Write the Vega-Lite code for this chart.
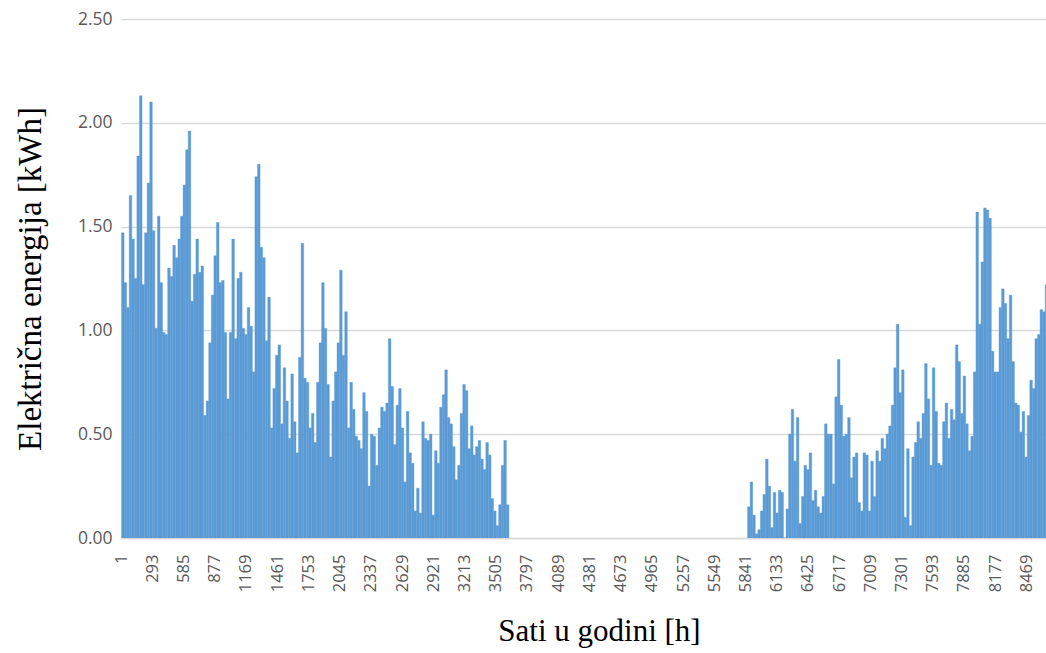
{
  "$schema": "https://vega.github.io/schema/vega-lite/v6.json",
  "width": 925,
  "height": 519,
  "autosize": {"type": "none"},
  "padding": {"left": 121, "top": 19, "right": 0, "bottom": 115},
  "background": "white",
  "config": {"view": {"stroke": null}},
  "data": {"values": [
    {"h":1,"e":1.47},{"h":25,"e":1.23},{"h":49,"e":1.11},{"h":73,"e":1.65},{"h":97,"e":1.44},{"h":121,"e":1.25},{"h":145,"e":1.84},{"h":169,"e":2.13},{"h":193,"e":1.22},{"h":217,"e":1.47},
    {"h":241,"e":1.71},{"h":265,"e":2.10},{"h":289,"e":1.48},{"h":313,"e":1.01},{"h":337,"e":1.55},{"h":361,"e":1.23},{"h":385,"e":0.99},{"h":409,"e":0.98},{"h":433,"e":1.30},{"h":457,"e":1.26},
    {"h":481,"e":1.41},{"h":505,"e":1.35},{"h":529,"e":1.44},{"h":553,"e":1.55},{"h":577,"e":1.70},{"h":601,"e":1.87},{"h":625,"e":1.96},{"h":649,"e":1.14},{"h":673,"e":1.27},{"h":697,"e":1.44},
    {"h":721,"e":1.28},{"h":745,"e":1.31},{"h":769,"e":0.59},{"h":793,"e":0.66},{"h":817,"e":0.94},{"h":841,"e":1.17},{"h":865,"e":1.36},{"h":889,"e":1.52},{"h":913,"e":1.23},{"h":937,"e":1.24},
    {"h":961,"e":0.99},{"h":985,"e":0.67},{"h":1009,"e":0.99},{"h":1033,"e":1.44},{"h":1057,"e":0.96},{"h":1081,"e":1.25},{"h":1105,"e":1.28},{"h":1129,"e":1.01},{"h":1153,"e":0.98},{"h":1177,"e":1.11},
    {"h":1201,"e":1.02},{"h":1225,"e":0.80},{"h":1249,"e":1.74},{"h":1273,"e":1.80},{"h":1297,"e":1.40},{"h":1321,"e":1.35},{"h":1345,"e":0.95},{"h":1369,"e":1.16},{"h":1393,"e":0.53},{"h":1417,"e":0.72},
    {"h":1441,"e":0.88},{"h":1465,"e":0.93},{"h":1489,"e":0.55},{"h":1513,"e":0.82},{"h":1537,"e":0.66},{"h":1561,"e":0.48},{"h":1585,"e":0.79},{"h":1609,"e":0.56},{"h":1633,"e":0.41},{"h":1657,"e":0.87},
    {"h":1681,"e":1.42},{"h":1705,"e":0.77},{"h":1729,"e":0.75},{"h":1753,"e":0.53},{"h":1777,"e":0.60},{"h":1801,"e":0.46},{"h":1825,"e":0.75},{"h":1849,"e":0.94},{"h":1873,"e":1.23},{"h":1897,"e":1.01},
    {"h":1921,"e":0.74},{"h":1945,"e":0.39},{"h":1969,"e":0.66},{"h":1993,"e":0.80},{"h":2017,"e":0.94},{"h":2041,"e":1.29},{"h":2065,"e":0.88},{"h":2089,"e":1.09},{"h":2113,"e":0.53},{"h":2137,"e":0.75},
    {"h":2161,"e":0.62},{"h":2185,"e":0.49},{"h":2209,"e":0.47},{"h":2233,"e":0.43},{"h":2257,"e":0.70},{"h":2281,"e":0.61},{"h":2305,"e":0.25},{"h":2329,"e":0.50},{"h":2353,"e":0.49},{"h":2377,"e":0.35},
    {"h":2401,"e":0.53},{"h":2425,"e":0.63},{"h":2449,"e":0.61},{"h":2473,"e":0.65},{"h":2497,"e":0.96},{"h":2521,"e":0.73},{"h":2545,"e":0.45},{"h":2569,"e":0.64},{"h":2593,"e":0.72},{"h":2617,"e":0.53},
    {"h":2641,"e":0.27},{"h":2665,"e":0.61},{"h":2689,"e":0.41},{"h":2713,"e":0.36},{"h":2737,"e":0.13},{"h":2761,"e":0.24},{"h":2785,"e":0.12},{"h":2809,"e":0.56},{"h":2833,"e":0.48},{"h":2857,"e":0.47},
    {"h":2881,"e":0.50},{"h":2905,"e":0.11},{"h":2929,"e":0.42},{"h":2953,"e":0.36},{"h":2977,"e":0.63},{"h":3001,"e":0.69},{"h":3025,"e":0.81},{"h":3049,"e":0.58},{"h":3073,"e":0.55},{"h":3097,"e":0.44},
    {"h":3121,"e":0.28},{"h":3145,"e":0.35},{"h":3169,"e":0.60},{"h":3193,"e":0.74},{"h":3217,"e":0.71},{"h":3241,"e":0.43},{"h":3265,"e":0.54},{"h":3289,"e":0.40},{"h":3313,"e":0.44},{"h":3337,"e":0.47},
    {"h":3361,"e":0.38},{"h":3385,"e":0.33},{"h":3409,"e":0.46},{"h":3433,"e":0.40},{"h":3457,"e":0.19},{"h":3481,"e":0.13},{"h":3505,"e":0.06},{"h":3529,"e":0.16},{"h":3553,"e":0.35},{"h":3577,"e":0.47},
    {"h":3601,"e":0.16},
    {"h":5857,"e":0.15},{"h":5881,"e":0.27},{"h":5905,"e":0.11},{"h":5929,"e":0.02},{"h":5953,"e":0.04},{"h":5977,"e":0.13},{"h":6001,"e":0.21},{"h":6025,"e":0.38},{"h":6049,"e":0.25},{"h":6073,"e":0.05},
    {"h":6097,"e":0.22},{"h":6121,"e":0.12},{"h":6145,"e":0.23},{"h":6169,"e":0.22},{"h":6193,"e":0.0},{"h":6217,"e":0.14},{"h":6241,"e":0.50},{"h":6265,"e":0.62},{"h":6289,"e":0.37},{"h":6313,"e":0.58},
    {"h":6337,"e":0.07},{"h":6361,"e":0.20},{"h":6385,"e":0.35},{"h":6409,"e":0.33},{"h":6433,"e":0.41},{"h":6457,"e":0.18},{"h":6481,"e":0.23},{"h":6505,"e":0.15},{"h":6529,"e":0.12},{"h":6553,"e":0.20},
    {"h":6577,"e":0.55},{"h":6601,"e":0.50},{"h":6625,"e":0.50},{"h":6649,"e":0.26},{"h":6673,"e":0.68},{"h":6697,"e":0.86},{"h":6721,"e":0.64},{"h":6745,"e":0.49},{"h":6769,"e":0.50},{"h":6793,"e":0.58},
    {"h":6817,"e":0.29},{"h":6841,"e":0.39},{"h":6865,"e":0.41},{"h":6889,"e":0.17},{"h":6913,"e":0.13},{"h":6937,"e":0.41},{"h":6961,"e":0.40},{"h":6985,"e":0.13},{"h":7009,"e":0.37},{"h":7033,"e":0.20},
    {"h":7057,"e":0.42},{"h":7081,"e":0.37},{"h":7105,"e":0.48},{"h":7129,"e":0.43},{"h":7153,"e":0.50},{"h":7177,"e":0.54},{"h":7201,"e":0.64},{"h":7225,"e":0.82},{"h":7249,"e":1.03},{"h":7273,"e":0.70},
    {"h":7297,"e":0.81},{"h":7321,"e":0.10},{"h":7345,"e":0.43},{"h":7369,"e":0.06},{"h":7393,"e":0.39},{"h":7417,"e":0.46},{"h":7441,"e":0.56},{"h":7465,"e":0.48},{"h":7489,"e":0.60},{"h":7513,"e":0.84},
    {"h":7537,"e":0.67},{"h":7561,"e":0.35},{"h":7585,"e":0.82},{"h":7609,"e":0.61},{"h":7633,"e":0.36},{"h":7657,"e":0.35},{"h":7681,"e":0.56},{"h":7705,"e":0.65},{"h":7729,"e":0.48},{"h":7753,"e":0.62},
    {"h":7777,"e":0.57},{"h":7801,"e":0.93},{"h":7825,"e":0.85},{"h":7849,"e":0.60},{"h":7873,"e":0.78},{"h":7897,"e":0.55},{"h":7921,"e":0.42},{"h":7945,"e":0.49},{"h":7969,"e":0.80},{"h":7993,"e":1.57},
    {"h":8017,"e":1.03},{"h":8041,"e":1.33},{"h":8065,"e":1.59},{"h":8089,"e":1.58},{"h":8113,"e":1.54},{"h":8137,"e":0.90},{"h":8161,"e":0.80},{"h":8185,"e":0.80},{"h":8209,"e":1.11},{"h":8233,"e":1.20},
    {"h":8257,"e":1.13},{"h":8281,"e":0.96},{"h":8305,"e":1.17},{"h":8329,"e":0.85},{"h":8353,"e":0.65},{"h":8377,"e":0.64},{"h":8401,"e":0.51},{"h":8425,"e":0.61},{"h":8449,"e":0.39},{"h":8473,"e":0.59},
    {"h":8497,"e":0.76},{"h":8521,"e":0.72},{"h":8545,"e":0.96},{"h":8569,"e":0.98},{"h":8593,"e":1.10},{"h":8617,"e":1.09},{"h":8641,"e":1.22}
  ]},
  "mark": {"type": "bar", "color": "#5B9BD5", "clip": true, "binSpacing": 0, "stroke": "#5B9BD5", "strokeWidth": 0.4},
  "encoding": {
    "x": {
      "field": "h", "type": "quantitative",
      "bin": {"step": 24, "extent": [0, 8760], "anchor": 0, "nice": false},
      "scale": {"domain": [0, 8652], "nice": false, "zero": false},
      "axis": {
        "title": "Sati u godini [h]",
        "values": [1, 293, 585, 877, 1169, 1461, 1753, 2045, 2337, 2629, 2921, 3213, 3505, 3797, 4089, 4381, 4673, 4965, 5257, 5549, 5841, 6133, 6425, 6717, 7009, 7301, 7593, 7885, 8177, 8469],
        "format": "d",
        "labelAngle": -90,
        "labelAlign": "right",
        "labelBaseline": "middle",
        "labelPadding": 16,
        "labelFont": "Open Sans",
        "labelFontSize": 16.5,
        "labelColor": "#595959",
        "labelOverlap": false,
        "labelFlush": false,
        "ticks": false,
        "grid": false,
        "domain": true,
        "domainColor": "#D9D9D9",
        "domainWidth": 1.5,
        "titleFont": "Liberation Serif",
        "titleFontSize": 31,
        "titleFontWeight": "normal",
        "titleColor": "#000000",
        "titlePadding": 25,
        "titleX": 478
      }
    },
    "y": {
      "field": "e", "type": "quantitative",
      "scale": {"domain": [0, 2.5], "nice": false},
      "axis": {
        "title": "Električna  energija [kWh]",
        "values": [0, 0.5, 1, 1.5, 2, 2.5],
        "format": ".2f",
        "labelFont": "Open Sans",
        "labelFontSize": 17.5,
        "labelColor": "#595959",
        "labelPadding": 9,
        "ticks": false,
        "domain": false,
        "grid": true,
        "gridColor": "#D9D9D9",
        "gridWidth": 1.5,
        "titleFont": "Liberation Serif",
        "titleFontSize": 33,
        "titleFontWeight": "normal",
        "titleColor": "#000000",
        "titlePadding": 30
      }
    }
  }
}
